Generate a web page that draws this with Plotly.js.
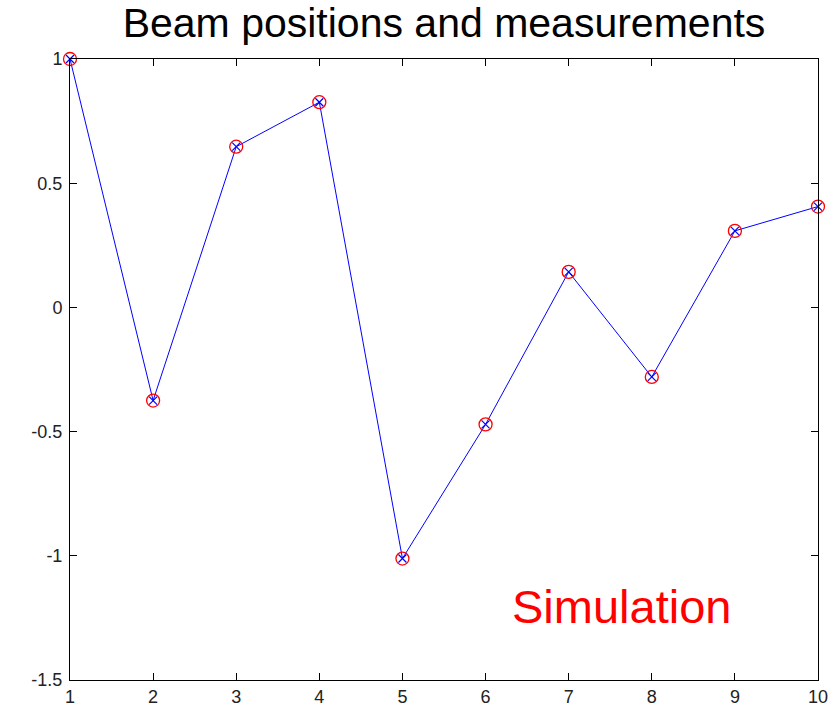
<!DOCTYPE html>
<html>
<head>
<meta charset="utf-8">
<script src="https://cdn.plot.ly/plotly-3.0.1.min.js"></script>
<style>html,body{margin:0;padding:0;background:#fff;}#chart{width:838px;height:709px;}</style>
</head>
<body>
<div id="chart"></div>
<script>
var xPositions = [1, 2, 3, 4, 5, 6, 7, 8, 9, 10];
var measurements = [1.0, -0.375, 0.647, 0.826, -1.011, -0.471, 0.143, -0.28, 0.308, 0.406];
var xTickVals = [1, 2, 3, 4, 5, 6, 7, 8, 9, 10];
var xTickText = ["1", "2", "3", "4", "5", "6", "7", "8", "9", "10"];
var yTickVals = [-1.5, -1, -0.5, 0, 0.5, 1];
var yTickText = ["-1.5", "-1", "-0.5", "0", "0.5", "1"];
var titleText = "Beam positions and measurements";
var noteText = "Simulation";

var traces = [
  {x: xPositions, y: measurements, mode: "lines", line: {color: "#0000ff", width: 1}, hoverinfo: "skip", cliponaxis: false},
  {x: xPositions, y: measurements, mode: "markers", marker: {symbol: "x-thin-open", size: 8, color: "#0000ff", line: {color: "#0000ff", width: 1.2}}, cliponaxis: false},
  {x: xPositions, y: measurements, mode: "markers", marker: {symbol: "circle-open", size: 13, color: "#ff0000", line: {color: "#ff0000", width: 1.3}}, cliponaxis: false}
];

var layout = {
  width: 838, height: 709,
  margin: {l: 70, r: 20, t: 59, b: 29},
  paper_bgcolor: "#ffffff", plot_bgcolor: "#ffffff",
  showlegend: false,
  font: {family: "Liberation Sans, Arial, sans-serif", color: "#222222", size: 18},
  title: {text: titleText, font: {size: 41, color: "#000000", family: "Liberation Sans, Arial, sans-serif"}, x: 0.5, xref: "paper", xanchor: "center", y: 0.968, yref: "container", yanchor: "middle"},
  xaxis: {range: [1, 10], tickmode: "array", tickvals: xTickVals, ticktext: xTickText, ticks: "inside", ticklen: 7, tickcolor: "#000", showline: true, linecolor: "#000", linewidth: 1, mirror: "ticks", showgrid: false, zeroline: false, fixedrange: true, ticklabelstandoff: 0},
  yaxis: {range: [-1.5, 1], tickmode: "array", tickvals: yTickVals, ticktext: yTickText, ticks: "inside", ticklen: 7, tickcolor: "#000", showline: true, linecolor: "#000", linewidth: 1, mirror: "ticks", showgrid: false, zeroline: false, fixedrange: true, ticklabelstandoff: 3},
  annotations: [
    {text: noteText, xref: "paper", yref: "paper", x: 0.737, y: 0.119, xanchor: "center", yanchor: "middle", showarrow: false, font: {size: 47, color: "#ff0000", family: "Liberation Sans, Arial, sans-serif"}}
  ]
};

Plotly.newPlot("chart", traces, layout, {staticPlot: true});
</script>
</body>
</html>
